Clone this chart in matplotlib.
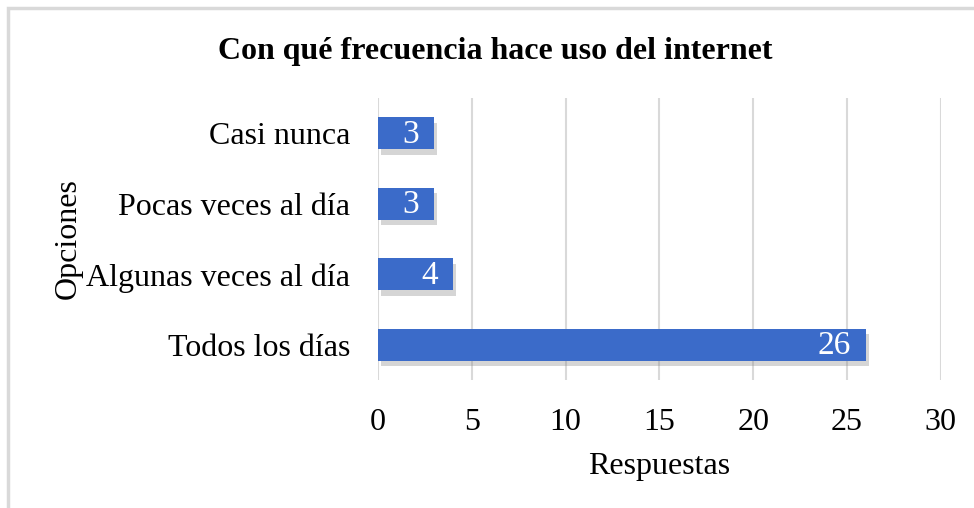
import matplotlib.pyplot as plt
import matplotlib.patheffects as pe
from matplotlib.patches import Rectangle

categorias = ["Todos los días", "Algunas veces al día", "Pocas veces al día", "Casi nunca"]
respuestas = [26, 4, 3, 3]
ticks_x = [0, 5, 10, 15, 20, 25, 30]

plt.rcParams['font.family'] = ['Liberation Serif', 'DejaVu Serif']

fig = plt.figure(figsize=(9.74, 5.08), dpi=100)
ax = fig.add_axes([0.388, 0.252, 0.578, 0.555])

# chart border (cut off on right and bottom like the original)
fig.patches.append(Rectangle((8 / 974, -0.05), 1.2, 1 - 8 / 508 + 0.05, transform=fig.transFigure,
                             fill=False, edgecolor="#d9d9d9", linewidth=2.5))

bars = ax.barh(categorias, respuestas, height=0.45, color="#3b6bc9", zorder=3)
for b in bars:
    b.set_path_effects([pe.SimplePatchShadow(offset=(2, -4), shadow_rgbFace="#888888", alpha=0.35),
                        pe.Normal()])

for b, v in zip(bars, respuestas):
    ax.text(b.get_width() - 0.8, b.get_y() + b.get_height() / 2 - 0.02, str(v),
            ha="right", va="center", color="white", fontsize=24, zorder=4)

ax.set_xlim(0, 30)
ax.set_ylim(-0.5, 3.5)
ax.set_xticks(ticks_x)
ax.grid(axis="x", color="#d9d9d9", linewidth=1.5, zorder=0)
for s in ax.spines.values():
    s.set_visible(False)
ax.tick_params(axis="y", length=0, labelsize=23, pad=20)
ax.tick_params(axis="x", length=0, labelsize=23, pad=20)

ax.set_xlabel("Respuestas", fontsize=23)
ax.xaxis.set_label_coords(0.499, -0.255)
ax.set_ylabel("Opciones", fontsize=23)
ax.yaxis.set_label_coords(-0.525, 0.5)

fig.text(0.508, 0.898, "Con qué frecuencia hace uso del internet", ha="center", va="center",
         fontsize=23, fontweight="bold")

fig.savefig("out.png", dpi=100)
